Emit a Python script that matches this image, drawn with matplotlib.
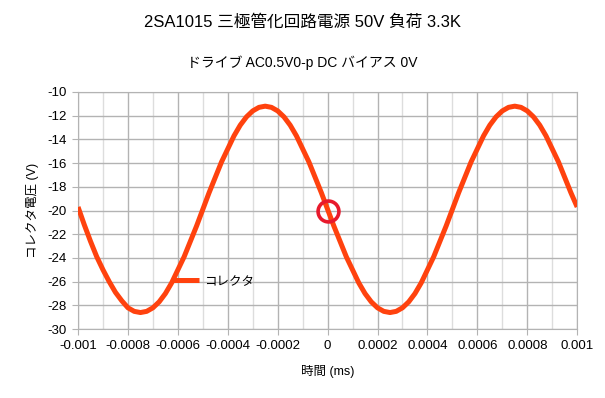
import matplotlib.pyplot as plt
from matplotlib.ticker import MultipleLocator

plt.rcParams['font.family'] = ['Liberation Sans', 'Noto Sans CJK JP', 'DejaVu Sans']
plt.rcParams['axes.unicode_minus'] = False

# time (ms) and collector voltage (V)
time_ms = [i * 0.000025 - 0.001 for i in range(81)]
collector_v = [
    -19.7, -21.2, -22.6, -23.9, -25.0, -26.0, -26.9, -27.6, -28.2, -28.5,
    -28.6, -28.5, -28.2, -27.7, -27.0, -26.1, -25.0, -23.9, -22.6, -21.3,
    -19.9, -18.5, -17.2, -15.9, -14.8, -13.7, -12.8, -12.1, -11.6, -11.3,
    -11.2, -11.3, -11.6, -12.1, -12.8, -13.7, -14.8, -15.9, -17.2, -18.5,
    -19.9, -21.3, -22.6, -23.9, -25.0, -26.1, -27.0, -27.7, -28.2, -28.5,
    -28.6, -28.5, -28.2, -27.7, -27.0, -26.1, -25.0, -23.9, -22.6, -21.3,
    -19.9, -18.5, -17.2, -15.9, -14.8, -13.7, -12.8, -12.1, -11.6, -11.3,
    -11.2, -11.3, -11.6, -12.1, -12.8, -13.7, -14.8, -15.9, -17.2, -18.5,
    -19.7,
]
marker_x = [0]
marker_y = [-20]

x_ticks = [-0.001, -0.0008, -0.0006, -0.0004, -0.0002, 0,
           0.0002, 0.0004, 0.0006, 0.0008, 0.001]
x_labels = ["-0.001", "-0.0008", "-0.0006", "-0.0004", "-0.0002", "0",
            "0.0002", "0.0004", "0.0006", "0.0008", "0.001"]
y_ticks = list(range(-30, -9, 2))


def main():
    fig = plt.figure(figsize=(6.05, 3.98), dpi=100)
    ax = fig.add_axes([0.129, 0.173, 0.825, 0.596])

    ax.plot(time_ms, collector_v, color="#ff420e", lw=3.6, label="コレクタ",
            solid_capstyle="butt", zorder=3)
    ax.plot(marker_x, marker_y, "o", ms=15, mfc="none", mec="#e8192c",
            mew=2.6, zorder=4)

    ax.set_xlim(-0.001, 0.001)
    ax.set_ylim(-30, -10)
    ax.set_xticks(x_ticks)
    ax.set_xticklabels(x_labels)
    ax.set_yticks(y_ticks)
    ax.xaxis.set_minor_locator(MultipleLocator(0.0001))

    ax.grid(which="major", color="#b3b3b3", lw=1)
    ax.grid(which="minor", axis="x", color="#dddddd", lw=1)
    ax.set_axisbelow(True)
    for s in ax.spines.values():
        s.set_color("#b3b3b3")
    ax.tick_params(which="major", length=4, color="#b3b3b3", labelsize=9.5, pad=4)
    ax.tick_params(which="minor", length=0)

    ax.set_xlabel("時間 (ms)", fontsize=9, labelpad=9)
    ax.set_ylabel("コレクタ電圧 (V)", fontsize=9, labelpad=6)

    fig.text(0.5, 0.945, "2SA1015 三極管化回路電源 50V 負荷 3.3K",
             ha="center", va="center", fontsize=12)
    fig.text(0.5, 0.842, "ドライブ AC0.5V0-p DC バイアス 0V",
             ha="center", va="center", fontsize=10)

    ax.legend(loc="center left", bbox_to_anchor=(0.165, 0.2), frameon=False,
              fontsize=9, handlelength=2.2, handletextpad=0.4)

    fig.savefig("out.png")
    plt.close(fig)


if __name__ == "__main__":
    main()
